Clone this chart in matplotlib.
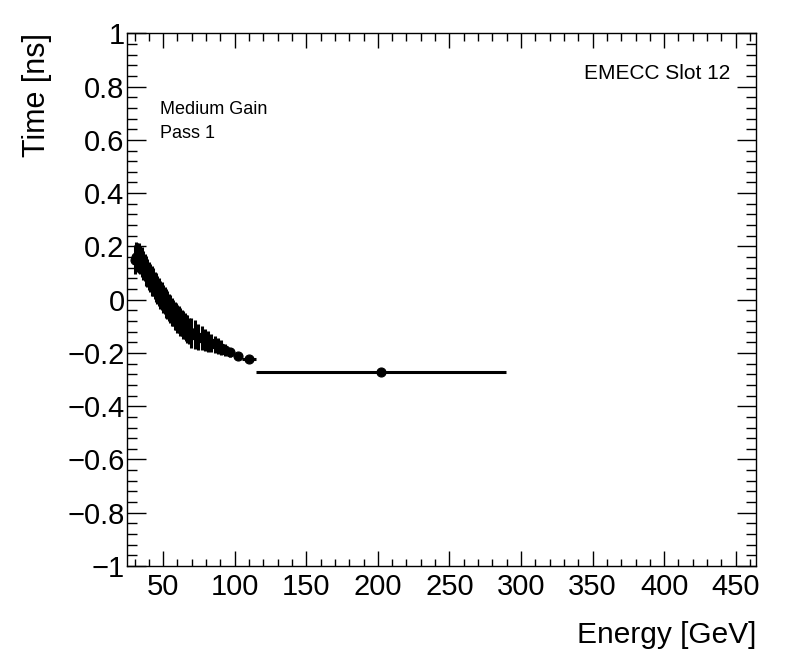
import matplotlib
matplotlib.use('Agg')
import matplotlib.pyplot as plt
from matplotlib.ticker import MultipleLocator

# ---- data ----
energy = [30.2, 31, 32, 33, 34, 35, 36, 37, 38, 39, 40, 41, 42, 43, 44, 45,
          46, 47, 48, 49, 50, 51, 52, 53, 54, 55, 56, 57, 58, 59, 60, 61, 62,
          63, 64, 65, 66, 67, 68,
          69.8, 72.1, 74.4, 76.8, 79.1, 81.4, 83.7, 86.1, 88.4, 90.7, 93.1, 96.6,
          102.2, 109.8, 202.5]
time_ns = [0.150, 0.162, 0.158, 0.156, 0.148, 0.141, 0.128, 0.121, 0.108, 0.101,
           0.089, 0.082, 0.070, 0.065, 0.053, 0.047, 0.035, 0.029, 0.018, 0.013,
           0.002, -0.003, -0.014, -0.019, -0.030, -0.035, -0.046, -0.050, -0.060,
           -0.063, -0.072, -0.075, -0.084, -0.086, -0.095, -0.099, -0.107, -0.110,
           -0.117,
           -0.125, -0.132, -0.140, -0.145, -0.152, -0.157, -0.163, -0.168, -0.174,
           -0.180, -0.188, -0.198,
           -0.213, -0.222, -0.273]
time_err = [0.055, 0.055, 0.054, 0.056, 0.053, 0.055, 0.054, 0.052, 0.055, 0.053,
            0.054, 0.052, 0.055, 0.053, 0.052, 0.054, 0.053, 0.051, 0.054, 0.052,
            0.053, 0.051, 0.054, 0.052, 0.051, 0.053, 0.052, 0.050, 0.053, 0.051,
            0.052, 0.050, 0.052, 0.049, 0.051, 0.050, 0.049, 0.051, 0.050,
            0.058, 0.055, 0.050, 0.045, 0.042, 0.040, 0.035, 0.032, 0.030, 0.028,
            0.022, 0.018,
            0.010, 0.010, 0.004]
energy_err_lo = [0.5, 0.5, 0.5, 0.5, 0.5, 0.5, 0.5, 0.5, 0.5, 0.5,
                 0.5, 0.5, 0.5, 0.5, 0.5, 0.5, 0.5, 0.5, 0.5, 0.5,
                 0.5, 0.5, 0.5, 0.5, 0.5, 0.5, 0.5, 0.5, 0.5, 0.5,
                 0.5, 0.5, 0.5, 0.5, 0.5, 0.5, 0.5, 0.5, 0.5,
                 1.2, 1.15, 1.15, 1.2, 1.15, 1.15, 1.15, 1.2, 1.15, 1.15, 1.2, 1.6,
                 2.7, 4.8, 87.8]
energy_err_hi = [0.5, 0.5, 0.5, 0.5, 0.5, 0.5, 0.5, 0.5, 0.5, 0.5,
                 0.5, 0.5, 0.5, 0.5, 0.5, 0.5, 0.5, 0.5, 0.5, 0.5,
                 0.5, 0.5, 0.5, 0.5, 0.5, 0.5, 0.5, 0.5, 0.5, 0.5,
                 0.5, 0.5, 0.5, 0.5, 0.5, 0.5, 0.5, 0.5, 0.5,
                 1.15, 1.15, 1.2, 1.15, 1.15, 1.15, 1.2, 1.15, 1.15, 1.2, 1.6, 2.9,
                 2.8, 4.9, 87.2]

x_range = (25.0, 464.3)
y_range = (-1.0, 1.0)
x_label = 'Energy [GeV]'
y_label = 'Time [ns]'
annot_left = ['Medium Gain', 'Pass 1']
annot_right = 'EMECC Slot 12'

plt.rcParams['font.family'] = ['Liberation Sans', 'DejaVu Sans']

fig = plt.figure(figsize=(7.96, 6.72), dpi=100)
ax = fig.add_axes([0.160, 0.1577, 0.790, 0.7927])

ax.errorbar(energy, time_ns, yerr=time_err,
            xerr=[energy_err_lo, energy_err_hi],
            fmt='o', color='black', ms=6.5, elinewidth=2.2, capsize=0,
            markeredgewidth=0.8)

ax.set_xlim(*x_range)
ax.set_ylim(*y_range)

ax.xaxis.set_major_locator(MultipleLocator(50))
ax.xaxis.set_minor_locator(MultipleLocator(10))
ax.yaxis.set_major_locator(MultipleLocator(0.2))
ax.yaxis.set_minor_locator(MultipleLocator(0.04))

ax.tick_params(axis='both', which='both', direction='in', top=True, right=True,
               width=1.0, colors='black')
ax.tick_params(axis='x', which='major', length=10.8, pad=5, labelsize=21)
ax.tick_params(axis='x', which='minor', length=5.4)
ax.tick_params(axis='y', which='major', length=13.7, pad=2, labelsize=21)
ax.tick_params(axis='y', which='minor', length=7.0)

def fmt_y(v, pos):
    if abs(v) < 1e-9:
        return '0'
    s = ('%.1f' % v).rstrip('0').rstrip('.')
    return s.replace('-', '\u2212')
ax.yaxis.set_major_formatter(plt.FuncFormatter(fmt_y))

for sp in ax.spines.values():
    sp.set_linewidth(1.0)

ax.set_xlabel(x_label, fontsize=21.5, loc='right')
ax.xaxis.set_label_coords(1.0, -0.103)
ax.set_ylabel(y_label, fontsize=22, loc='top')
ax.yaxis.set_label_coords(-0.12, 1.0)

fig.text(0.201, 0.830, annot_left[0], fontsize=13, va='baseline', ha='left')
fig.text(0.201, 0.794, annot_left[1], fontsize=13, va='baseline', ha='left')
fig.text(0.918, 0.882, annot_right, fontsize=15, va='baseline', ha='right')

fig.savefig('out.png', dpi=100)
